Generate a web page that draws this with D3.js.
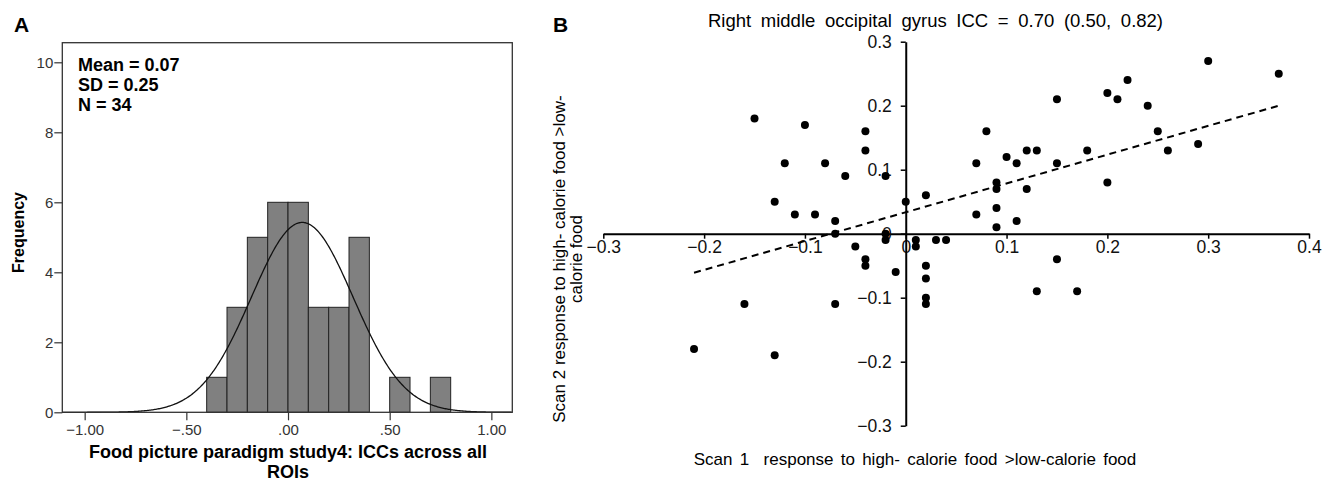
<!DOCTYPE html>
<html>
<head>
<meta charset="utf-8">
<script src="https://cdn.jsdelivr.net/npm/d3@7"></script>
<style>
  body { margin: 0; background: #fff; }
  svg { display: block; font-family: Arial, "Liberation Sans", sans-serif; }
</style>
</head>
<body>
<div id="chart"></div>
<script>
// ---- Panel A data: histogram of ICCs ----
var histEdges = [-0.4, -0.3, -0.2, -0.1, 0.0, 0.1, 0.2, 0.3, 0.4, 0.5, 0.6, 0.7];
var histCounts = [1, 3, 5, 6, 6, 3, 3, 5, 0, 1, 0, 1];
var binWidth = 0.1;
var iccMean = 0.07, iccSD = 0.25, iccN = 34;
var histXTicks = [-1, -0.5, 0, 0.5, 1];
var histXLabels = ["\u22121.00", "\u2212.50", ".00", ".50", "1.00"];
var histYTicks = [0, 2, 4, 6, 8, 10];
var statLines = ["Mean = 0.07", "SD = 0.25", "N = 34"];

// ---- Panel B data: scan 1 vs scan 2 ----
var scan1 = [-0.15, -0.10, -0.04, -0.04, -0.12, -0.08, -0.06, -0.02, -0.13, -0.11,
  -0.09, -0.07, -0.07, -0.02, -0.02, 0.00, 0.02, -0.05, -0.04, -0.04,
  -0.01, 0.01, 0.01, 0.03, 0.04, 0.02, 0.02, 0.02, 0.02, -0.16,
  -0.07, -0.21, -0.13, 0.30, 0.37, 0.22, 0.20, 0.21, 0.15, 0.24,
  0.08, 0.25, 0.29, 0.12, 0.13, 0.18, 0.26, 0.10, 0.07, 0.11,
  0.15, 0.09, 0.09, 0.20, 0.12, 0.07, 0.09, 0.11, 0.09, 0.15,
  0.13, 0.17];
var scan2 = [0.18, 0.17, 0.16, 0.13, 0.11, 0.11, 0.09, 0.09, 0.05, 0.03,
  0.03, 0.02, 0.00, 0.00, -0.01, 0.05, 0.06, -0.02, -0.04, -0.05,
  -0.06, -0.01, -0.02, -0.01, -0.01, -0.05, -0.07, -0.10, -0.11, -0.11,
  -0.11, -0.18, -0.19, 0.27, 0.25, 0.24, 0.22, 0.21, 0.21, 0.20,
  0.16, 0.16, 0.14, 0.13, 0.13, 0.13, 0.13, 0.12, 0.11, 0.11,
  0.11, 0.08, 0.07, 0.08, 0.07, 0.03, 0.04, 0.02, 0.01, -0.04,
  -0.09, -0.09];
var fitX = [-0.21, 0.37];
var fitY = [-0.061, 0.20];
var scatXTicks = [-0.3, -0.2, -0.1, 0, 0.1, 0.2, 0.3, 0.4];
var scatXLabels = ["\u22120.3", "\u22120.2", "\u22120.1", "0", "0.1", "0.2", "0.3", "0.4"];
var scatYTicks = [-0.3, -0.2, -0.1, 0, 0.1, 0.2, 0.3];
var scatYLabels = ["\u22120.3", "\u22120.2", "\u22120.1", "0", "0.1", "0.2", "0.3"];

var W = 1333, H = 481;
var svg = d3.select("#chart").append("svg")
  .attr("width", W).attr("height", H);

// ================= Panel A =================
var gA = svg.append("g");

var xA = d3.scaleLinear().domain([-1.11, 1.103]).range([62.3, 512.3]);
var yA = d3.scaleLinear().domain([0, 10.56]).range([412.3, 42.7]);

gA.append("text").attr("x", 14).attr("y", 32)
  .attr("font-size", 21).attr("font-weight", "bold").text("A");

// bars
var bins = histEdges.map(function(e, i) { return {x0: e, count: histCounts[i]}; })
  .filter(function(d) { return d.count > 0; });

gA.selectAll(".bar")
  .data(bins)
  .enter().append("rect")
  .attr("class", "bar")
  .attr("x", function(d) { return xA(d.x0); })
  .attr("y", function(d) { return yA(d.count); })
  .attr("width", function(d) { return xA(d.x0 + binWidth) - xA(d.x0); })
  .attr("height", function(d) { return yA(0) - yA(d.count); })
  .attr("fill", "#808080")
  .attr("stroke", "#222")
  .attr("stroke-width", 1);

// normal curve scaled to counts
var curvePts = d3.range(-1.11, 1.103, 0.005).map(function(x) {
  var z = (x - iccMean) / iccSD;
  return [x, iccN * binWidth / (iccSD * Math.sqrt(2 * Math.PI)) * Math.exp(-0.5 * z * z)];
});
gA.append("path")
  .datum(curvePts)
  .attr("fill", "none")
  .attr("stroke", "#111")
  .attr("stroke-width", 1.3)
  .attr("d", d3.line().x(function(d) { return xA(d[0]); }).y(function(d) { return yA(d[1]); }));

// frame
gA.append("rect")
  .attr("x", xA.range()[0]).attr("y", yA.range()[1])
  .attr("width", xA.range()[1] - xA.range()[0])
  .attr("height", yA.range()[0] - yA.range()[1])
  .attr("fill", "none").attr("stroke", "#333").attr("stroke-width", 1.3);

// axes
var axA_y = gA.append("g")
  .attr("transform", "translate(" + xA.range()[0] + ",0)")
  .call(d3.axisLeft(yA).tickValues(histYTicks).tickSize(8).tickSizeOuter(0).tickPadding(1));
var axA_x = gA.append("g")
  .attr("transform", "translate(0," + yA.range()[0] + ")")
  .call(d3.axisBottom(xA).tickValues(histXTicks).tickSize(8).tickSizeOuter(0).tickPadding(4)
    .tickFormat(function(d, i) { return histXLabels[i]; }));
[axA_y, axA_x].forEach(function(ax) {
  ax.select(".domain").remove();
  ax.selectAll("line").attr("stroke", "#333").attr("stroke-width", 1.2);
  ax.selectAll("text").attr("font-size", 15).attr("fill", "#333")
    .attr("font-family", "Arial, 'Liberation Sans', sans-serif");
});

// stats text
gA.selectAll(".stat")
  .data(statLines)
  .enter().append("text")
  .attr("class", "stat")
  .attr("x", 78)
  .attr("y", function(d, i) { return 70.7 + i * 20; })
  .attr("font-size", 18).attr("font-weight", "bold")
  .text(function(d) { return d; });

// axis titles
gA.append("text")
  .attr("transform", "translate(24,232.5) rotate(-90)")
  .attr("text-anchor", "middle")
  .attr("font-size", 16).attr("font-weight", "bold")
  .text("Frequency");
gA.append("text")
  .attr("x", 288).attr("y", 458)
  .attr("text-anchor", "middle")
  .attr("font-size", 18).attr("font-weight", "bold")
  .text("Food picture paradigm study4: ICCs across all");
gA.append("text")
  .attr("x", 288).attr("y", 478)
  .attr("text-anchor", "middle")
  .attr("font-size", 18).attr("font-weight", "bold")
  .text("ROIs");

// ================= Panel B =================
var gB = svg.append("g");

var xB = d3.scaleLinear().domain([-0.3, 0.4]).range([603.3, 1309]);
var yB = d3.scaleLinear().domain([-0.3, 0.3]).range([425.7, 41.7]);

gB.append("text").attr("x", 553).attr("y", 32)
  .attr("font-size", 21).attr("font-weight", "bold").text("B");

gB.append("text")
  .attr("x", 935.5).attr("y", 26.5)
  .attr("text-anchor", "middle")
  .attr("font-size", 18.5)
  .attr("word-spacing", 4.5)
  .text("Right middle occipital gyrus ICC = 0.70 (0.50, 0.82)");

var axB_x = gB.append("g")
  .attr("transform", "translate(0," + yB(0) + ")")
  .call(d3.axisBottom(xB).tickValues(scatXTicks).tickSize(5).tickSizeOuter(0).tickPadding(2)
    .tickFormat(function(d, i) { return scatXLabels[i]; }));
var axB_y = gB.append("g")
  .attr("transform", "translate(" + xB(0) + ",0)")
  .call(d3.axisLeft(yB).tickValues(scatYTicks).tickSize(5).tickSizeOuter(0).tickPadding(9)
    .tickFormat(function(d, i) { return scatYLabels[i]; }));
[axB_x, axB_y].forEach(function(ax) {
  ax.select(".domain").attr("stroke", "#000").attr("stroke-width", 2);
  ax.selectAll("line").attr("stroke", "#000").attr("stroke-width", 1.5);
  ax.selectAll("text").attr("font-size", 17.5).attr("fill", "#111")
    .attr("font-family", "Arial, 'Liberation Sans', sans-serif");
});

// regression line
gB.append("line")
  .attr("x1", xB(fitX[0])).attr("y1", yB(fitY[0]))
  .attr("x2", xB(fitX[1])).attr("y2", yB(fitY[1]))
  .attr("stroke", "#000").attr("stroke-width", 2)
  .attr("stroke-dasharray", "7,5");

// points
gB.selectAll(".dot")
  .data(scan1.map(function(x, i) { return [x, scan2[i]]; }))
  .enter().append("circle")
  .attr("class", "dot")
  .attr("cx", function(d) { return xB(d[0]); })
  .attr("cy", function(d) { return yB(d[1]); })
  .attr("r", 4)
  .attr("fill", "#000");

// axis titles
var yLab = gB.append("text")
  .attr("transform", "translate(565,259) rotate(-90)")
  .attr("text-anchor", "middle")
  .attr("font-size", 17);
yLab.append("tspan").attr("x", 0).attr("dy", 0)
  .text("Scan 2 response to high- calorie food >low-");
yLab.append("tspan").attr("x", 0).attr("dy", 17)
  .text("calorie food");

gB.append("text")
  .attr("x", 915).attr("y", 465)
  .attr("text-anchor", "middle")
  .attr("font-size", 17)
  .attr("word-spacing", 2.5)
  .text("Scan 1  response to high- calorie food >low-calorie food")
  .style("white-space", "pre");
</script>
</body>
</html>
